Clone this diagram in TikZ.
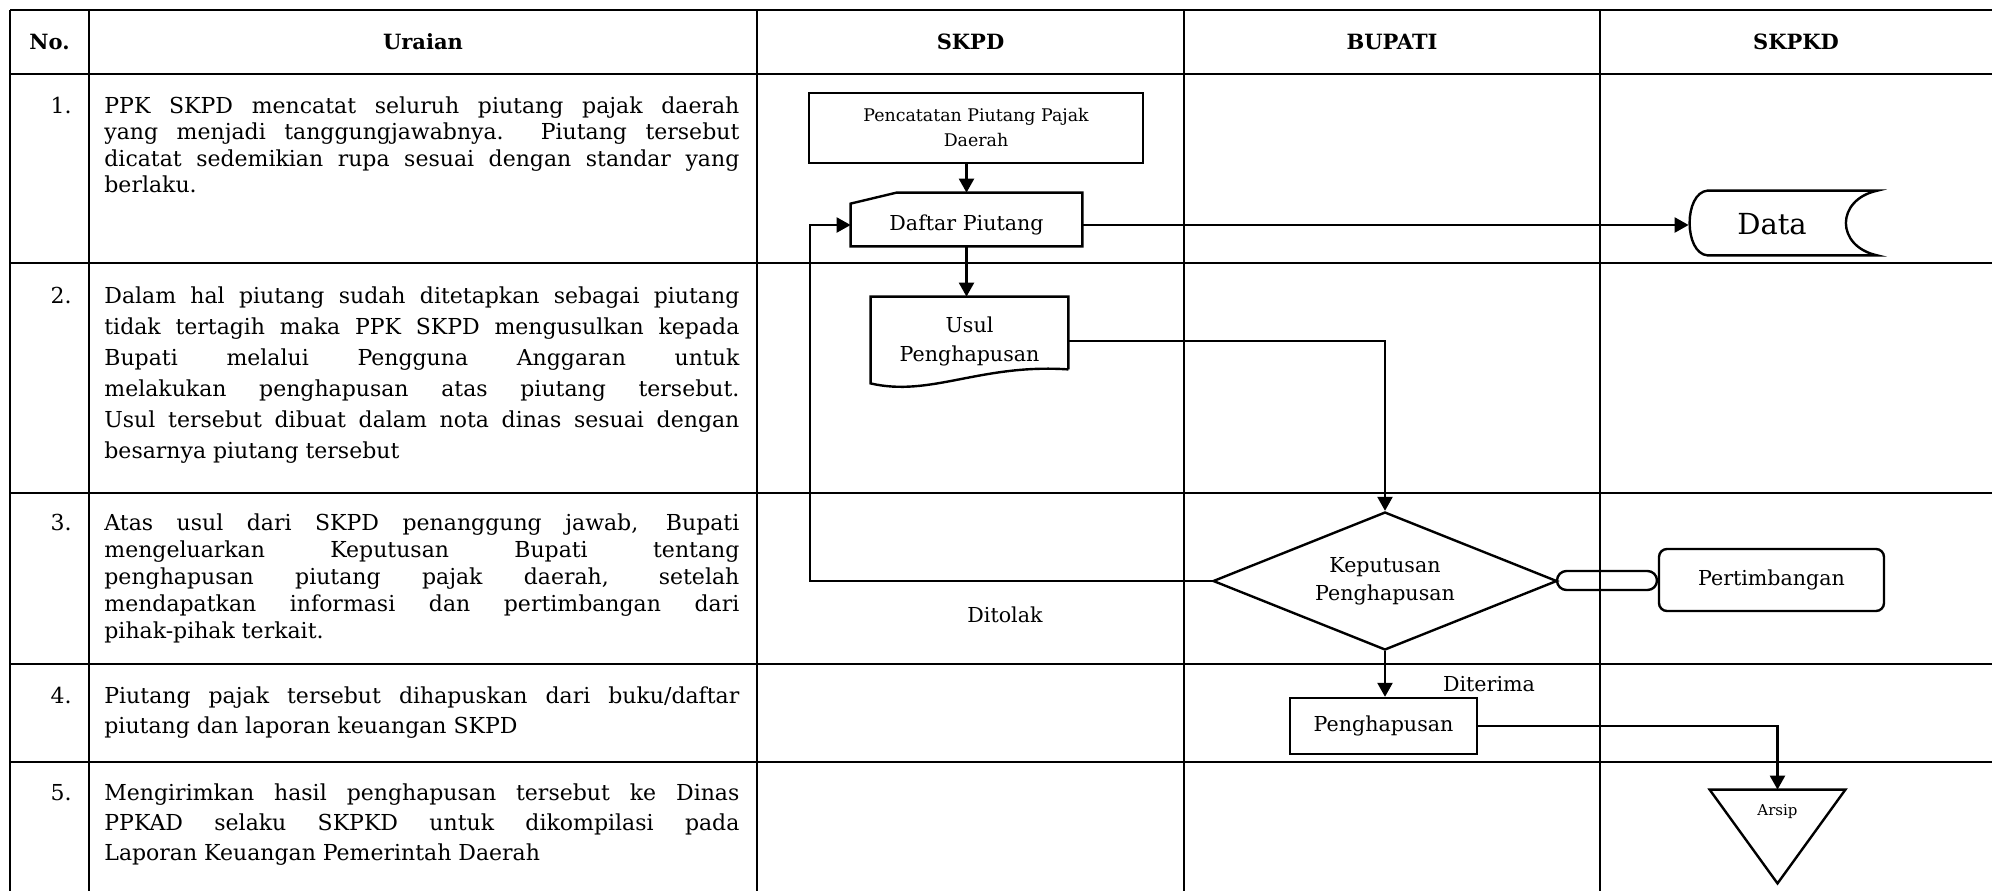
\documentclass[tikz,border=0pt]{standalone}
\usepackage{fontspec}
\setmainfont{DejaVu Serif}
\usetikzlibrary{arrows.meta,shapes.geometric,calc}
\newcommand{\urtext}[2]{\parbox[t]{317.5pt}{\fontsize{11}{#1}\selectfont\hyphenpenalty=10000 \tolerance=10000 \hbadness=10000 #2}}
\begin{document}
\begin{tikzpicture}[x=0.5pt,y=-0.5pt,
  tbl/.style={line width=1.1pt},
  shp/.style={draw, line width=1.2pt},
  flow/.style={line width=1.2pt, -{Triangle[length=7pt,width=7.5pt]}},
  hdr/.style={font=\fontsize{10.5}{12}\selectfont\bfseries, inner sep=0},
  lbl/.style={font=\fontsize{10.3}{14}\selectfont, align=center, inner sep=0},
  num/.style={font=\fontsize{11}{13}\selectfont, anchor=base east, inner sep=0},
  desc/.style={anchor=base west, inner sep=0},
  frame/.style={inner sep=0}]
\fill[white] (0,0) rectangle (1992,891);
\useasboundingbox (0,0) rectangle (1992,891);
% table grid
\foreach \yy in {10,74,263,493,664,762} \draw[tbl] (10,\yy) -- (1992,\yy);
\foreach \xx in {10,89,757,1184,1600} \draw[tbl] (\xx,10) -- (\xx,891);
% headers
\node[hdr] (hno) at (49.5,42) {No.};
\node[hdr] (hur) at (423,42) {Uraian};
\node[hdr] (hskpd) at (970.5,42) {SKPD};
\node[hdr] (hbup) at (1392,42) {BUPATI};
\node[hdr] (hskpkd) at (1796,42) {SKPKD};
% descriptions
\node[num] (n1) at (72,113) {1.};
\node[desc] (d1) at (104,113) {\urtext{13.25pt}{PPK SKPD mencatat seluruh piutang pajak daerah\linebreak yang menjadi tanggungjawabnya.\ \ Piutang tersebut\linebreak dicatat sedemikian rupa sesuai dengan standar yang\linebreak berlaku.}};
\node[num] (n2) at (72,303) {2.};
\node[desc] (d2) at (104,303) {\urtext{15.5pt}{Dalam hal piutang sudah ditetapkan sebagai piutang\linebreak tidak tertagih maka PPK SKPD mengusulkan kepada\linebreak Bupati melalui Pengguna Anggaran untuk\linebreak melakukan penghapusan atas piutang tersebut.\linebreak Usul tersebut dibuat dalam nota dinas sesuai dengan\linebreak besarnya piutang tersebut}};
\node[num] (n3) at (72,530) {3.};
\node[desc] (d3) at (104,530) {\urtext{13.5pt}{Atas usul dari SKPD penanggung jawab, Bupati\linebreak mengeluarkan Keputusan Bupati tentang\linebreak penghapusan piutang pajak daerah, setelah\linebreak mendapatkan informasi dan pertimbangan dari\linebreak pihak-pihak terkait.}};
\node[num] (n4) at (72,703) {4.};
\node[desc] (d4) at (104,703) {\urtext{15pt}{Piutang pajak tersebut dihapuskan dari buku/daftar\linebreak piutang dan laporan keuangan SKPD}};
\node[num] (n5) at (72,800) {5.};
\node[desc] (d5) at (104,800) {\urtext{15pt}{Mengirimkan hasil penghapusan tersebut ke Dinas\linebreak PPKAD selaku SKPKD untuk dikompilasi pada\linebreak Laporan Keuangan Pemerintah Daerah}};
% flowchart nodes
\node[shp, minimum width=167pt, minimum height=35pt, inner sep=0, align=center, font=\fontsize{8.7}{12.5}\selectfont] (pencatatan) at (976,128) {Pencatatan Piutang Pajak\\Daerah};
\node[frame, lbl, minimum width=115.5pt, minimum height=21pt] (daftar) at (966.5,225) {Daftar Piutang};
\draw[shp] (daftar.south west) -- (daftar.north west) -- ($(daftar.north west)+(46,-11)$) -- ($(daftar.north east)+(0,-11)$) -- (daftar.south east) -- cycle;
\node[frame, lbl, font=\fontsize{10.3}{14.5}\selectfont, minimum width=98.5pt, minimum height=44pt] (usul) at (969.5,341) {Usul\\Penghapusan};
\draw[shp] ($(usul.south east)+(0,-16)$) -- (usul.north east) -- (usul.north west) -- ($(usul.south west)+(0,-2)$) .. controls ($(usul.south west)+(60,12)$) and ($(usul.south west)+(110,-22)$) .. ($(usul.south east)+(0,-16)$);
\node[shp, shape=diamond, aspect=2.5, minimum width=172pt, minimum height=69pt, inner sep=0, lbl] (kep) at (1385,581) {Keputusan\\Penghapusan};
\node[shp, rounded corners=4.75pt, minimum width=50pt, minimum height=9.5pt, inner sep=0] (pill) at (1607,580.5) {};
\node[shp, rounded corners=4pt, minimum width=112.5pt, minimum height=31pt, lbl] (pert) at (1771.5,580) {Pertimbangan};
\node[shp, minimum width=93.5pt, minimum height=28pt, lbl] (hapus) at (1383.5,726) {Penghapusan};
\node[frame, minimum width=67.5pt, minimum height=46.5pt] (arsip) at (1777.5,836.5) {};
\draw[shp] (arsip.north west) -- (arsip.north east) -- (arsip.south) -- cycle;
\node[inner sep=0, font=\fontsize{7.5}{9}\selectfont] (arsiptext) at ($(arsip.north)+(0,22)$) {Arsip};
\node[frame, minimum width=94pt, minimum height=32pt] (data) at (1783,223) {};
\draw[shp] ($(data.north west)+(19,0)$) .. controls ($(data.north west)+(-5,2)$) and ($(data.south west)+(-5,-2)$) .. ($(data.south west)+(19,0)$) -- (data.south east) .. controls ($(data.south east)+(-42,-9)$) and ($(data.north east)+(-42,9)$) .. (data.north east) -- cycle;
\node[inner sep=0, font=\fontsize{14.5}{17}\selectfont] (datatext) at (1772,224) {Data};
\node[lbl] (ditolak) at (1005,615) {Ditolak};
\node[lbl] (diterima) at (1489,684) {Diterima};
\coordinate (loopx) at (810,581);
% connectors
\draw[flow] (pencatatan.south -| daftar.north) -- ($(daftar.north)+(0,-11)$);
\draw[flow] (daftar.south) -- (daftar.south |- usul.north);
\draw[flow] (daftar.east) -- (daftar.east -| data.west);
\draw[flow] (usul.east) -| (kep.north);
\draw[flow] (kep.west) -- (loopx) |- (daftar.west);
\draw[flow] (kep.south) -- (kep.south |- hapus.north);
\draw[flow] (hapus.east) -| (arsip.north);
\end{tikzpicture}
\end{document}
